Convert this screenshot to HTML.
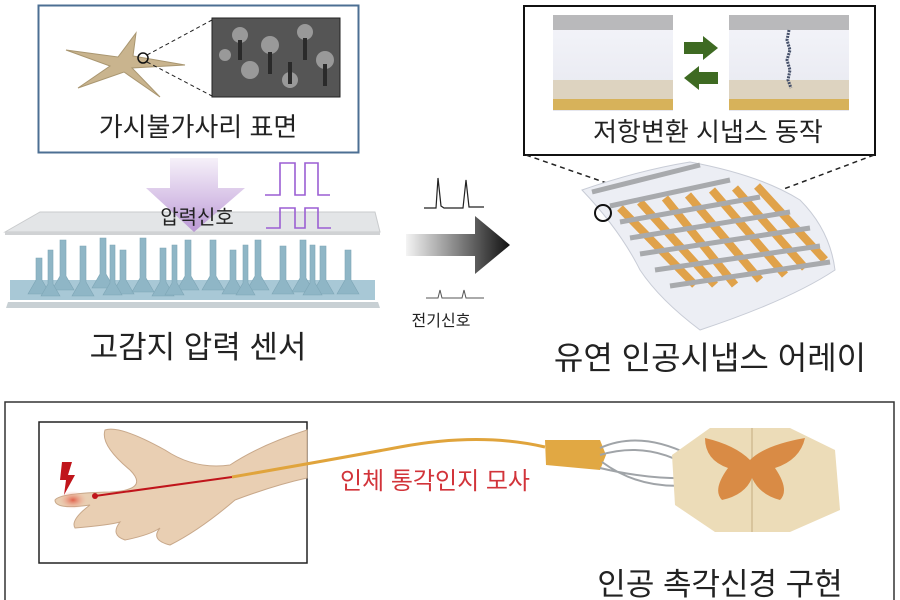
<!DOCTYPE html>
<html><head><meta charset="utf-8"><style>
html,body{margin:0;padding:0;background:#fff}
svg{display:block}
text{font-family:"Liberation Sans","Noto Sans CJK KR","NanumGothic",sans-serif;fill:#222}
</style></head><body>
<svg width="900" height="600" viewBox="0 0 900 600" xmlns="http://www.w3.org/2000/svg">
<defs>
<linearGradient id="pa" x1="0" y1="0" x2="0" y2="1"><stop offset="0" stop-color="#f4eef8"/><stop offset="1" stop-color="#b38bd1"/></linearGradient>
<linearGradient id="ga" x1="0" y1="0" x2="1" y2="0"><stop offset="0" stop-color="#f4f4f4"/><stop offset="1" stop-color="#111"/></linearGradient>
<linearGradient id="cell" x1="0" y1="0" x2="0" y2="1"><stop offset="0" stop-color="#f4f5fa"/><stop offset="1" stop-color="#e6e7ef"/></linearGradient>
<radialGradient id="hot"><stop offset="0" stop-color="#e0604a"/><stop offset="1" stop-color="#f2b8a2" stop-opacity="0"/></radialGradient>
</defs>

<rect x="38.5" y="5.5" width="320" height="147" fill="#fff" stroke="#4c6f93" stroke-width="2"/>
<path d="M66 50 L118 57 L136 33 L133 56 L185 65 L132 68 L160 97 L124 72 L78 88 L110 66 Z" fill="#c9b48e" stroke="#a99670" stroke-width="1"/>
<circle cx="143" cy="58" r="5" fill="none" stroke="#111" stroke-width="1.5"/>
<line x1="147" y1="55" x2="212" y2="20" stroke="#222" stroke-dasharray="4,3"/>
<line x1="147" y1="62" x2="212" y2="96" stroke="#222" stroke-dasharray="4,3"/>
<rect x="212" y="18" width="128" height="79" fill="#555" stroke="#222"/>
<g fill="#999"><circle cx="240" cy="35" r="8"/><circle cx="270" cy="45" r="9"/><circle cx="305" cy="32" r="8"/><circle cx="325" cy="60" r="9"/><circle cx="250" cy="70" r="9"/><circle cx="290" cy="80" r="8"/><circle cx="225" cy="55" r="6"/></g>
<g fill="#2a2a2a"><rect x="238" y="40" width="4" height="20"/><rect x="268" y="52" width="4" height="22"/><rect x="303" y="38" width="4" height="22"/><rect x="288" y="62" width="4" height="22"/><rect x="323" y="64" width="4" height="22"/></g>
<text x="198" y="136" font-size="26" text-anchor="middle">가시불가사리 표면</text>

<path d="M5 232 L40 212 L375 212 L380 232 Z" fill="#e3e5e7" stroke="#c9cbcd"/>
<rect x="5" y="232" width="375" height="3" fill="#d0d2d4"/>
<rect x="10" y="280" width="365" height="20" fill="#a8c8d6"/>
<g fill="#8fb6c6" stroke="#7ea6b6" stroke-width="0.6">
<path d="M36 258h6v22l8 14h-22l8-14z"/><path d="M60 240h6v36l8 14h-22l8-14z"/><path d="M80 246h6v36l8 14h-22l8-14z"/><path d="M100 238h6v36l8 14h-22l8-14z"/><path d="M120 250h6v30l8 14h-22l8-14z"/><path d="M140 238h6v40l8 14h-22l8-14z"/><path d="M160 248h6v34l8 14h-22l8-14z"/><path d="M185 240h6v36l8 14h-22l8-14z"/><path d="M210 240h6v36l8 14h-22l8-14z"/><path d="M230 250h6v30l8 14h-22l8-14z"/><path d="M255 240h6v36l8 14h-22l8-14z"/><path d="M280 246h6v34l8 14h-22l8-14z"/><path d="M300 240h6v38l8 14h-22l8-14z"/><path d="M320 246h6v34l8 14h-22l8-14z"/><path d="M345 250h6v30l8 14h-22l8-14z"/>
<path d="M48 250h5v34l7 12h-19l7-12z"/><path d="M110 245h5v38l7 12h-19l7-12z"/><path d="M172 245h5v38l7 12h-19l7-12z"/><path d="M243 245h5v38l7 12h-19l7-12z"/><path d="M310 245h5v38l7 12h-19l7-12z"/>
</g>
<path d="M8 302 L378 302 L380 308 L6 308 Z" fill="#c8d0d4"/>
<path d="M170 158 H218 V188 H245 L194 232 L146 188 H170 Z" fill="url(#pa)" opacity="0.85"/>
<text x="197" y="224" font-size="20" text-anchor="middle">압력신호</text>
<g fill="none" stroke="#9b5fd3" stroke-width="1.6">
<path d="M265 195 H280 V163 H295 V195 H305 V163 H318 V195 H330"/>
<path d="M266 228 H280 V208 H295 V228 H305 V208 H318 V228 H331"/>
</g>
<text x="198" y="358" font-size="31" text-anchor="middle">고감지 압력 센서</text>

<path d="M424 208 H436 L438 178 L441 206 L444 208 H463 L466 180 L469 207 H484" fill="none" stroke="#222" stroke-width="1.2"/>
<path d="M406 234 H475 V216 L510 245 L475 274 V256 H406 Z" fill="url(#ga)"/>
<path d="M426 298 H438 L440 290 L442 298 H462 L464 290 L466 298 H484" fill="none" stroke="#555" stroke-width="1"/>
<text x="441" y="326" font-size="16" text-anchor="middle">전기신호</text>

<rect x="524" y="6" width="351" height="149" fill="#fff" stroke="#111" stroke-width="2"/>
<rect x="553" y="15" width="120" height="96" fill="url(#cell)"/>
<rect x="553" y="15" width="120" height="15" fill="#b9b9bb"/>
<rect x="553" y="80" width="120" height="20" fill="#ddd3c0"/>
<rect x="553" y="99" width="120" height="11" fill="#d7b25a"/>
<rect x="729" y="15" width="120" height="96" fill="url(#cell)"/>
<rect x="729" y="15" width="120" height="15" fill="#b9b9bb"/>
<rect x="729" y="80" width="120" height="20" fill="#ddd3c0"/>
<rect x="729" y="99" width="120" height="11" fill="#d7b25a"/>
<path d="M789 30 l-2 10 l3 10 l-3 10 l3 10 l-2 10 l3 8" fill="none" stroke="#45506a" stroke-width="3" stroke-dasharray="2,1"/>
<path d="M684 42 H703 V36 L718 48 L703 60 V54 H684 Z" fill="#3e6a22"/>
<path d="M718 72 H699 V66 L684 78 L699 90 V84 H718 Z" fill="#3e6a22"/>
<text x="708" y="141" font-size="26" text-anchor="middle">저항변환 시냅스 동작</text>
<line x1="526" y1="155" x2="690" y2="212" stroke="#222" stroke-width="1.5" stroke-dasharray="5,4"/>
<line x1="874" y1="155" x2="720" y2="213" stroke="#222" stroke-width="1.5" stroke-dasharray="5,4"/>
<path d="M582 190 Q640 170 690 162 Q760 175 800 200 Q830 230 835 270 Q790 300 700 330 Q660 300 640 270 Q620 230 582 190 Z" fill="#eceef4" stroke="#c8ccd6"/>
<g stroke="#e0a24a" stroke-width="8">
<line x1="620" y1="208" x2="695" y2="285"/><line x1="640" y1="202" x2="715" y2="285"/><line x1="665" y1="198" x2="735" y2="285"/><line x1="688" y1="195" x2="760" y2="280"/><line x1="712" y1="190" x2="785" y2="275"/><line x1="735" y1="188" x2="805" y2="268"/><line x1="757" y1="186" x2="825" y2="260"/>
</g>
<g stroke="#a8aaad" stroke-width="5">
<line x1="592" y1="192" x2="700" y2="165"/><line x1="610" y1="206" x2="730" y2="180"/><line x1="620" y1="222" x2="760" y2="197"/><line x1="630" y1="238" x2="790" y2="212"/><line x1="640" y1="254" x2="810" y2="228"/><line x1="655" y1="270" x2="820" y2="246"/><line x1="670" y1="286" x2="830" y2="262"/>
</g>
<circle cx="603" cy="213" r="8" fill="none" stroke="#111" stroke-width="2"/>
<text x="710" y="369" font-size="32" text-anchor="middle">유연 인공시냅스 어레이</text>

<rect x="5" y="402" width="889" height="200" fill="#fff" stroke="#333" stroke-width="1.5"/>
<rect x="39" y="422" width="268" height="141" fill="#fff" stroke="#222" stroke-width="1.5"/>
<path d="M307 430 Q260 445 230 465 Q195 470 165 450 Q120 425 105 430 Q100 445 130 470 Q150 490 110 492 Q60 493 55 500 Q55 510 90 505 Q70 520 75 528 Q110 525 120 522 Q110 535 125 540 Q150 535 160 528 Q150 540 170 545 Q200 530 235 500 Q275 485 307 478 Z" fill="#e9cfb3" stroke="#c8a88a" stroke-width="1"/>
<ellipse cx="73" cy="500" rx="14" ry="9" fill="url(#hot)"/>
<path d="M62 462 L72 462 L68 475 L75 475 L64 495 L66 480 L60 480 Z" fill="#c0151b"/>
<line x1="95" y1="496" x2="232" y2="477" stroke="#c0151b" stroke-width="2"/>
<circle cx="95" cy="496" r="3" fill="#c0151b"/>
<path d="M232 477 Q330 460 400 447 Q480 432 545 447" fill="none" stroke="#e0a43c" stroke-width="3"/>
<path d="M545 440 L600 440 L606 455 L600 470 L546 465 Z" fill="#e1a843"/>
<path d="M600 448 Q640 430 690 455 M602 462 Q640 490 690 485 M600 455 Q650 440 695 470 M600 468 Q650 480 695 478" fill="none" stroke="#a0a4a8" stroke-width="2"/>
<path d="M710 428 L790 428 L835 450 L840 510 L790 532 L715 532 L675 505 L672 455 Z" fill="#ecdcb8"/>
<line x1="752" y1="428" x2="752" y2="532" stroke="#d8c49c" stroke-width="2"/>
<path d="M705 438 Q735 445 750 460 Q765 445 805 438 Q800 460 775 468 Q790 490 780 500 Q760 495 752 478 Q745 495 722 500 Q712 490 728 468 Q705 460 705 438 Z" fill="#d98b45"/>
<text x="435" y="489" font-size="24" text-anchor="middle" style="fill:#d2343a">인체 통각인지 모사</text>
<text x="720" y="595" font-size="31" text-anchor="middle">인공 촉각신경 구현</text>
</svg>
</body></html>
